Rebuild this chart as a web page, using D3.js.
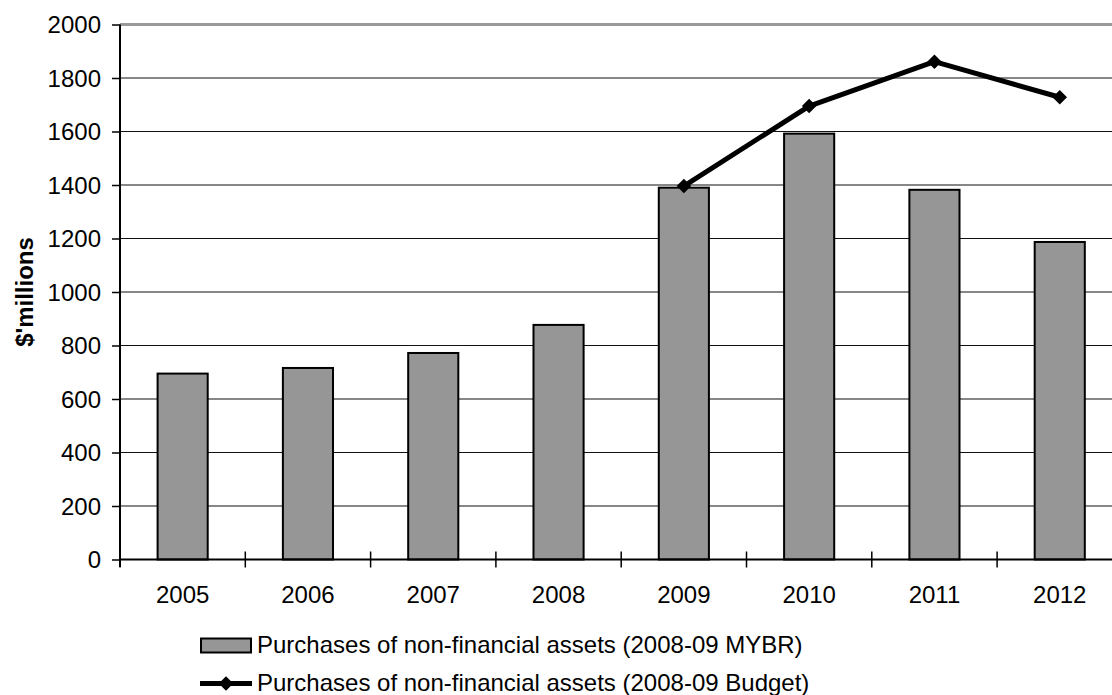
<!DOCTYPE html>
<html>
<head>
<meta charset="utf-8">
<script src="https://cdn.jsdelivr.net/npm/d3@7"></script>
<style>
  html, body { margin: 0; padding: 0; background: #fff; }
  svg { display: block; }
  text { font-family: "Liberation Sans", Arial, sans-serif; fill: #000; }
</style>
</head>
<body>
<svg id="chart" width="1112" height="695"></svg>
<script>
const categories = ["2005", "2006", "2007", "2008", "2009", "2010", "2011", "2012"];
const mybrValues = [695, 716, 772, 877, 1390, 1592, 1382, 1187];
const budgetYears = ["2009", "2010", "2011", "2012"];
const budgetValues = [1396, 1695, 1861, 1728];
const yTicks = [0, 200, 400, 600, 800, 1000, 1200, 1400, 1600, 1800, 2000];
const seriesNames = ["Purchases of non-financial assets (2008-09 MYBR)", "Purchases of non-financial assets (2008-09 Budget)"];
const yTitle = "$'millions";

const FS = 24;
const svg = d3.select("#chart");
const plotLeft = 120, plotRight = 1122.4, plotTop = 24.5, plotBottom = 559.5;

const x = d3.scaleBand().domain(categories).range([plotLeft, plotRight]).paddingInner(0.6).paddingOuter(0.3);
const y = d3.scaleLinear().domain([0, 2000]).range([plotBottom, plotTop]);
const step = x.step();

// gridlines
svg.append("g").selectAll("line").data(yTicks.filter(d => d > 0 && d < 2000)).join("line")
  .attr("x1", plotLeft).attr("x2", 1112).attr("y1", d => y(d)).attr("y2", d => y(d))
  .attr("stroke", "#111").attr("stroke-width", 1.2);
// top border (gray)
svg.append("line").attr("x1", plotLeft).attr("x2", 1112).attr("y1", y(2000)).attr("y2", y(2000))
  .attr("stroke", "#999").attr("stroke-width", 3);

// y axis
const yAxis = svg.append("g").attr("transform", `translate(${plotLeft},0)`)
  .call(d3.axisLeft(y).tickValues(yTicks).tickSize(8).tickPadding(11).tickFormat(d3.format("d")));
yAxis.select(".domain").remove();
yAxis.selectAll(".tick line").attr("stroke", "#000").attr("stroke-width", 1.5);
yAxis.selectAll("text").attr("font-size", FS).attr("dy", "0.35em");
svg.append("line").attr("x1", plotLeft).attr("x2", plotLeft).attr("y1", plotTop).attr("y2", 567)
  .attr("stroke", "#000").attr("stroke-width", 2);

// bars
svg.append("g").selectAll("rect").data(categories).join("rect")
  .attr("x", d => x(d)).attr("width", x.bandwidth())
  .attr("y", (d, i) => y(mybrValues[i])).attr("height", (d, i) => y(0) - y(mybrValues[i]))
  .attr("fill", "#969696").attr("stroke", "#000").attr("stroke-width", 2);

// x axis
svg.append("line").attr("x1", plotLeft).attr("x2", 1112).attr("y1", plotBottom).attr("y2", plotBottom)
  .attr("stroke", "#000").attr("stroke-width", 2);
const bounds = d3.range(categories.length + 1).map(i => plotLeft + i * step);
svg.append("g").selectAll("line").data(bounds).join("line")
  .attr("x1", d => d).attr("x2", d => d).attr("y1", plotBottom - 8).attr("y2", plotBottom + 8)
  .attr("stroke", "#000").attr("stroke-width", 1.5);
svg.append("g").selectAll("text").data(categories).join("text")
  .attr("x", d => x(d) + x.bandwidth() / 2).attr("y", 602.5)
  .attr("text-anchor", "middle").attr("font-size", FS).text(d => d);

// line series
const lineGen = d3.line().x(d => x(d.c) + x.bandwidth() / 2).y(d => y(d.v));
const lineData = budgetYears.map((c, i) => ({ c, v: budgetValues[i] }));
svg.append("path").datum(lineData).attr("d", lineGen)
  .attr("fill", "none").attr("stroke", "#000").attr("stroke-width", 5).attr("stroke-linejoin", "round");
const diamond = d3.symbol().type(d3.symbolSquare).size(105);
svg.append("g").selectAll("path").data(lineData).join("path")
  .attr("transform", d => `translate(${x(d.c) + x.bandwidth() / 2},${y(d.v)}) rotate(45)`)
  .attr("d", diamond).attr("fill", "#000");

// y title
svg.append("text").attr("transform", `translate(33,${(plotTop + plotBottom) / 2}) rotate(-90)`)
  .attr("text-anchor", "middle").attr("font-size", FS).attr("font-weight", "bold").text(yTitle);

// legend
const lg = svg.append("g");
lg.append("rect").attr("x", 201).attr("y", 638.5).attr("width", 50).attr("height", 14)
  .attr("fill", "#969696").attr("stroke", "#000").attr("stroke-width", 2);
lg.append("text").attr("x", 257).attr("y", 652.5).attr("font-size", FS).text(seriesNames[0]);
lg.append("line").attr("x1", 200).attr("x2", 252).attr("y1", 683.5).attr("y2", 683.5)
  .attr("stroke", "#000").attr("stroke-width", 5);
lg.append("path").attr("transform", "translate(226,683.5) rotate(45)").attr("d", diamond).attr("fill", "#000");
lg.append("text").attr("x", 257).attr("y", 691).attr("font-size", FS).text(seriesNames[1]);
</script>
</body>
</html>
